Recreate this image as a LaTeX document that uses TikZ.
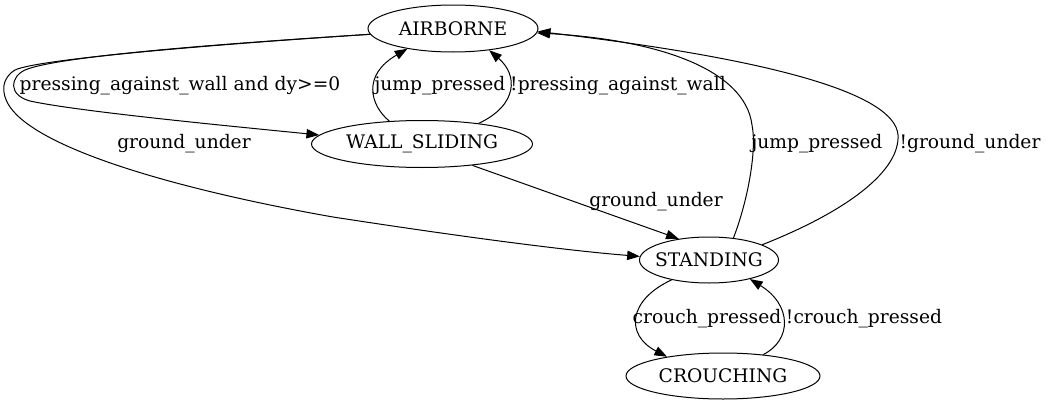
\documentclass[tikz,border=0pt]{standalone}
\usepackage{fontspec}
\setmainfont{DejaVu Serif}
\usetikzlibrary{arrows.meta,shapes.geometric}
\begin{document}
\begin{tikzpicture}[x=0.75pt,y=-0.75pt,
  state/.style={draw,ellipse,inner sep=0pt,line width=0.75pt,font=\fontsize{14}{16}\selectfont},
  lbl/.style={inner sep=0pt,font=\fontsize{14}{16}\selectfont},
  edge/.style={line width=0.75pt,-{Triangle[length=9.5pt,width=7pt]}}]
\path[use as bounding box] (0,0) rectangle (1046,407);
\node[state,minimum width=127.5pt,minimum height=35.25pt] (air) at (453,28.5) {AIRBORNE};
\node[state,minimum width=165.75pt,minimum height=35.25pt] (ws) at (422,144) {WALL\_SLIDING};
\node[state,inner xsep=-3.5pt,minimum width=104.25pt,minimum height=34.5pt] (st) at (709,260) {STANDING};
\node[state,minimum width=145.5pt,minimum height=34.5pt] (cr) at (723,376) {CROUCHING};
% AIRBORNE -> WALL_SLIDING
\draw[edge] (air.184) .. controls (250,42) and (60,55) .. (25,70)
  .. controls (10,77) and (8,95) .. (30,101)
  .. controls (80,112) and (250,128) .. (ws.175);
% AIRBORNE -> STANDING
\draw[edge] (air.184) .. controls (250,42) and (40,58) .. (15,70)
  .. controls (2,78) and (0,92) .. (10,107)
  .. controls (40,150) and (180,190) .. (333,217)
  .. controls (450,235) and (560,250) .. (st.177);
% WALL_SLIDING -> AIRBORNE
\draw[edge] (ws.145) .. controls (370,105) and (362,75) .. (air.204);
\draw[edge] (ws.20) .. controls (518,105) and (518,75) .. (air.329);
% WALL_SLIDING -> STANDING
\draw[edge] (ws.337) -- (st.145);
% STANDING -> AIRBORNE
\draw[edge] (st.42) .. controls (748,200) and (757,150) .. (752,125)
  .. controls (745,70) and (660,40) .. (air.357);
\draw[edge] (st.16) .. controls (850,210) and (900,170) .. (898,135)
  .. controls (895,95) and (780,60) .. (air.358);
% STANDING <-> CROUCHING
\draw[edge] (st.208) .. controls (628,300) and (625,335) .. (cr.161);
\draw[edge] (cr.28) .. controls (792,340) and (792,305) .. (st.335);
% labels
\node[lbl] (l1) at (180,86) {pressing\_against\_wall and dy>=0};
\node[lbl] (l2) at (184,144) {ground\_under};
\node[lbl] (l3) at (440,86) {jump\_pressed};
\node[lbl] (l4) at (618,86) {!pressing\_against\_wall};
\node[lbl] (l5) at (656,202) {ground\_under};
\node[lbl] (l6) at (817,144) {jump\_pressed};
\node[lbl] (l7) at (970,144) {!ground\_under};
\node[lbl] (l8) at (707,319) {crouch\_pressed};
\node[lbl] (l9) at (864,319) {!crouch\_pressed};
\end{tikzpicture}
\end{document}
